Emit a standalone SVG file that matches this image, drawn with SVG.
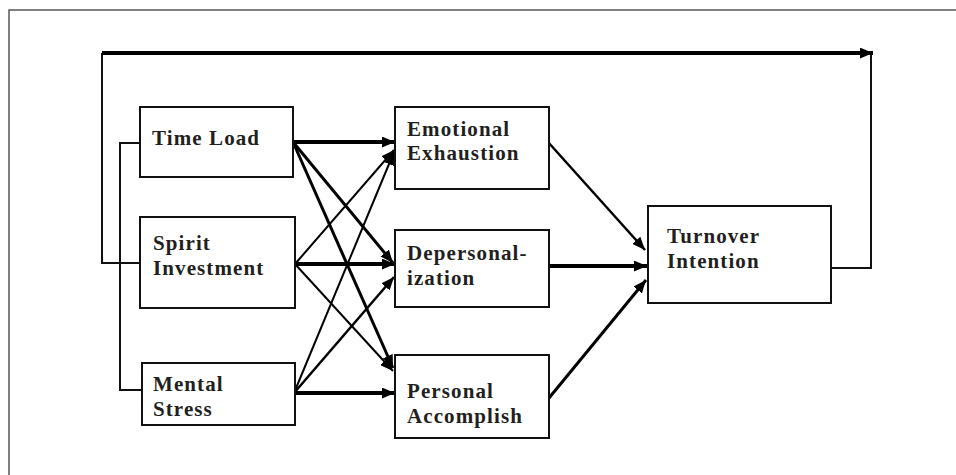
<svg xmlns="http://www.w3.org/2000/svg" width="956" height="475" viewBox="0 0 956 475">
<defs>
<marker id="ah" viewBox="0 0 12 10" refX="12" refY="5" markerWidth="13" markerHeight="11" markerUnits="userSpaceOnUse" orient="auto">
<path d="M0,0 L12,5 L0,10 z" fill="#000"/>
</marker>
<style>
.box{fill:#fff;stroke:#111;stroke-width:2}
.lbl{font-family:"Liberation Serif","Times New Roman",serif;font-weight:bold;font-size:21px;letter-spacing:1.1px;fill:#231f20}
.c{fill:none;stroke:#000;marker-end:url(#ah)}
.p{fill:none;stroke:#111;stroke-width:2}
</style>
</defs>
<rect width="956" height="475" fill="#fff"/>
<path d="M9,475 V10 H956" fill="none" stroke="#555" stroke-width="1.5"/>

<g id="connectors">
<path class="p" d="M140,263 H102 V53"/>
<path class="c" d="M102,53 H873" style="stroke-width:4"/>
<path class="p" d="M140,143 H120 V390 H141"/>
<path class="p" d="M831,268 H871 V55"/>
<path class="c" d="M293,142 L395,142" style="stroke-width:4"/>
<path class="c" d="M293,142 L393,263" style="stroke-width:3"/>
<path class="c" d="M293,142 L393,368" style="stroke-width:3"/>
<path class="c" d="M295,264 L394,150" style="stroke-width:2"/>
<path class="c" d="M295,264 L395,264" style="stroke-width:4"/>
<path class="c" d="M295,264 L393,371" style="stroke-width:2"/>
<path class="c" d="M294,393 L394,152" style="stroke-width:2"/>
<path class="c" d="M294,393 L394,277" style="stroke-width:2.5"/>
<path class="c" d="M294,393 L395,393" style="stroke-width:4"/>
<path class="c" d="M548,142 L645,250" style="stroke-width:2.5"/>
<path class="c" d="M548,266 L647,266" style="stroke-width:4"/>
<path class="c" d="M549,398 L646,280" style="stroke-width:3"/>
</g>

<g id="time-load">
<rect class="box" x="140" y="107" width="153" height="70"/>
<text class="lbl" x="152" y="145">Time Load</text>
</g>
<g id="spirit-investment">
<rect class="box" x="140" y="217" width="155" height="91"/>
<text class="lbl" x="153" y="250">Spirit</text>
<text class="lbl" x="153" y="275">Investment</text>
</g>
<g id="mental-stress">
<rect class="box" x="142" y="363" width="153" height="62"/>
<text class="lbl" x="153" y="391">Mental</text>
<text class="lbl" x="153" y="416">Stress</text>
</g>
<g id="emotional-exhaustion">
<rect class="box" x="395" y="107" width="154" height="82"/>
<text class="lbl" x="407" y="136">Emotional</text>
<text class="lbl" x="407" y="160">Exhaustion</text>
</g>
<g id="depersonalization">
<rect class="box" x="395" y="230" width="154" height="77"/>
<text class="lbl" x="407" y="260">Depersonal-</text>
<text class="lbl" x="407" y="285">ization</text>
</g>
<g id="personal-accomplish">
<rect class="box" x="395" y="355" width="154" height="83"/>
<text class="lbl" x="407" y="398">Personal</text>
<text class="lbl" x="407" y="423">Accomplish</text>
</g>
<g id="turnover-intention">
<rect class="box" x="648" y="206" width="183" height="97"/>
<text class="lbl" x="667" y="243">Turnover</text>
<text class="lbl" x="667" y="268">Intention</text>
</g>
</svg>
